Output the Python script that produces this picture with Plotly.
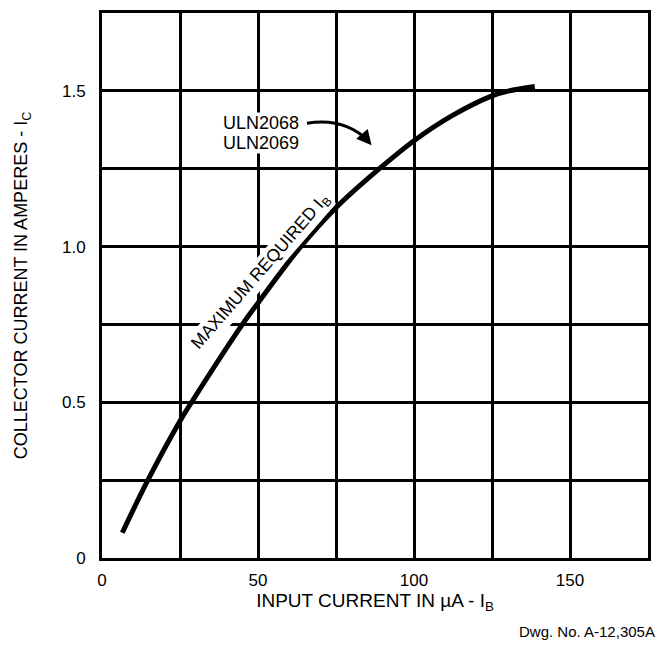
import plotly.graph_objects as go

# Data
input_current_ua = [6.5, 14.7, 25, 28.7, 45, 50, 63.7, 75, 88.9, 100, 112.5, 125, 130.1, 138.7]
collector_current_a = [0.081, 0.25, 0.44, 0.5, 0.75, 0.819, 1.0, 1.125, 1.25, 1.34, 1.422, 1.484, 1.499, 1.514]

x_tickvals = [0, 25, 50, 75, 100, 125, 150, 175]
x_ticktext = ["0", "", "50", "", "100", "", "150", ""]
y_tickvals = [0, 0.25, 0.5, 0.75, 1.0, 1.25, 1.5, 1.75]
y_ticktext = ["0", "", "0.5", "", "1.0", "", "1.5", ""]

FONT = "Liberation Sans, Arial, sans-serif"

fig = go.Figure()
fig.add_trace(go.Scatter(
    x=input_current_ua, y=collector_current_a, mode="lines",
    line=dict(color="black", width=5, shape="spline", smoothing=1.0),
    hoverinfo="skip", showlegend=False,
))

axis_common = dict(
    showgrid=True, gridcolor="black", gridwidth=3,
    showline=True, linecolor="black", linewidth=3, mirror=True,
    zeroline=False, ticks="", tickfont=dict(family=FONT, size=17, color="black"),
    fixedrange=True,
)

fig.update_xaxes(range=[0, 175], tickvals=x_tickvals, ticktext=x_ticktext,
                 ticklabelstandoff=5,
                 title=dict(text="INPUT CURRENT IN µA - I<sub>B</sub>",
                            font=dict(family=FONT, size=19, color="black"), standoff=1),
                 **axis_common)
fig.update_yaxes(range=[0, 1.75], tickvals=y_tickvals, ticktext=y_ticktext,
                 ticklabelstandoff=10,
                 title=dict(text="COLLECTOR CURRENT IN AMPERES - I<sub>C</sub>",
                            font=dict(family=FONT, size=18, color="black"), standoff=30),
                 **axis_common)

# Curved arrow from the label to the curve
fig.add_shape(type="path", xref="x", yref="y",
              path="M 65.7,1.396 Q 77.9,1.415 85.4,1.338",
              line=dict(color="black", width=3))
fig.add_annotation(x=86.4, y=1.325, xref="x", yref="y", ax=84.4, ay=1.349,
                   axref="x", ayref="y", text="", showarrow=True,
                   arrowhead=2, arrowsize=1.0, arrowwidth=3, arrowcolor="black")

fig.add_annotation(x=38.5, y=1.396, xref="x", yref="y", xanchor="left",
                   text="ULN2068", showarrow=False,
                   font=dict(family=FONT, size=18, color="black"),
                   bgcolor="white", borderpad=0)
fig.add_annotation(x=38.5, y=1.332, xref="x", yref="y", xanchor="left",
                   text="ULN2069", showarrow=False,
                   font=dict(family=FONT, size=18, color="black"),
                   bgcolor="white", borderpad=0)

fig.add_annotation(x=51.0, y=0.92, xref="x", yref="y",
                   text="MAXIMUM REQUIRED I<sub>B</sub>", showarrow=False,
                   textangle=-49, font=dict(family=FONT, size=17.5, color="black"),
                   bgcolor="white", borderpad=0)

fig.add_annotation(x=1.0, y=0, xref="paper", yref="paper", yshift=-73, xshift=9,
                   xanchor="right", yanchor="middle",
                   text="Dwg. No. A-12,305A", showarrow=False,
                   font=dict(family=FONT, size=15, color="black"))

fig.update_layout(
    width=650, height=632,
    margin=dict(l=94, r=10, t=2, b=82),
    paper_bgcolor="white", plot_bgcolor="white",
    showlegend=False,
)

fig.write_html("out.html", config={"displayModeBar": False})
